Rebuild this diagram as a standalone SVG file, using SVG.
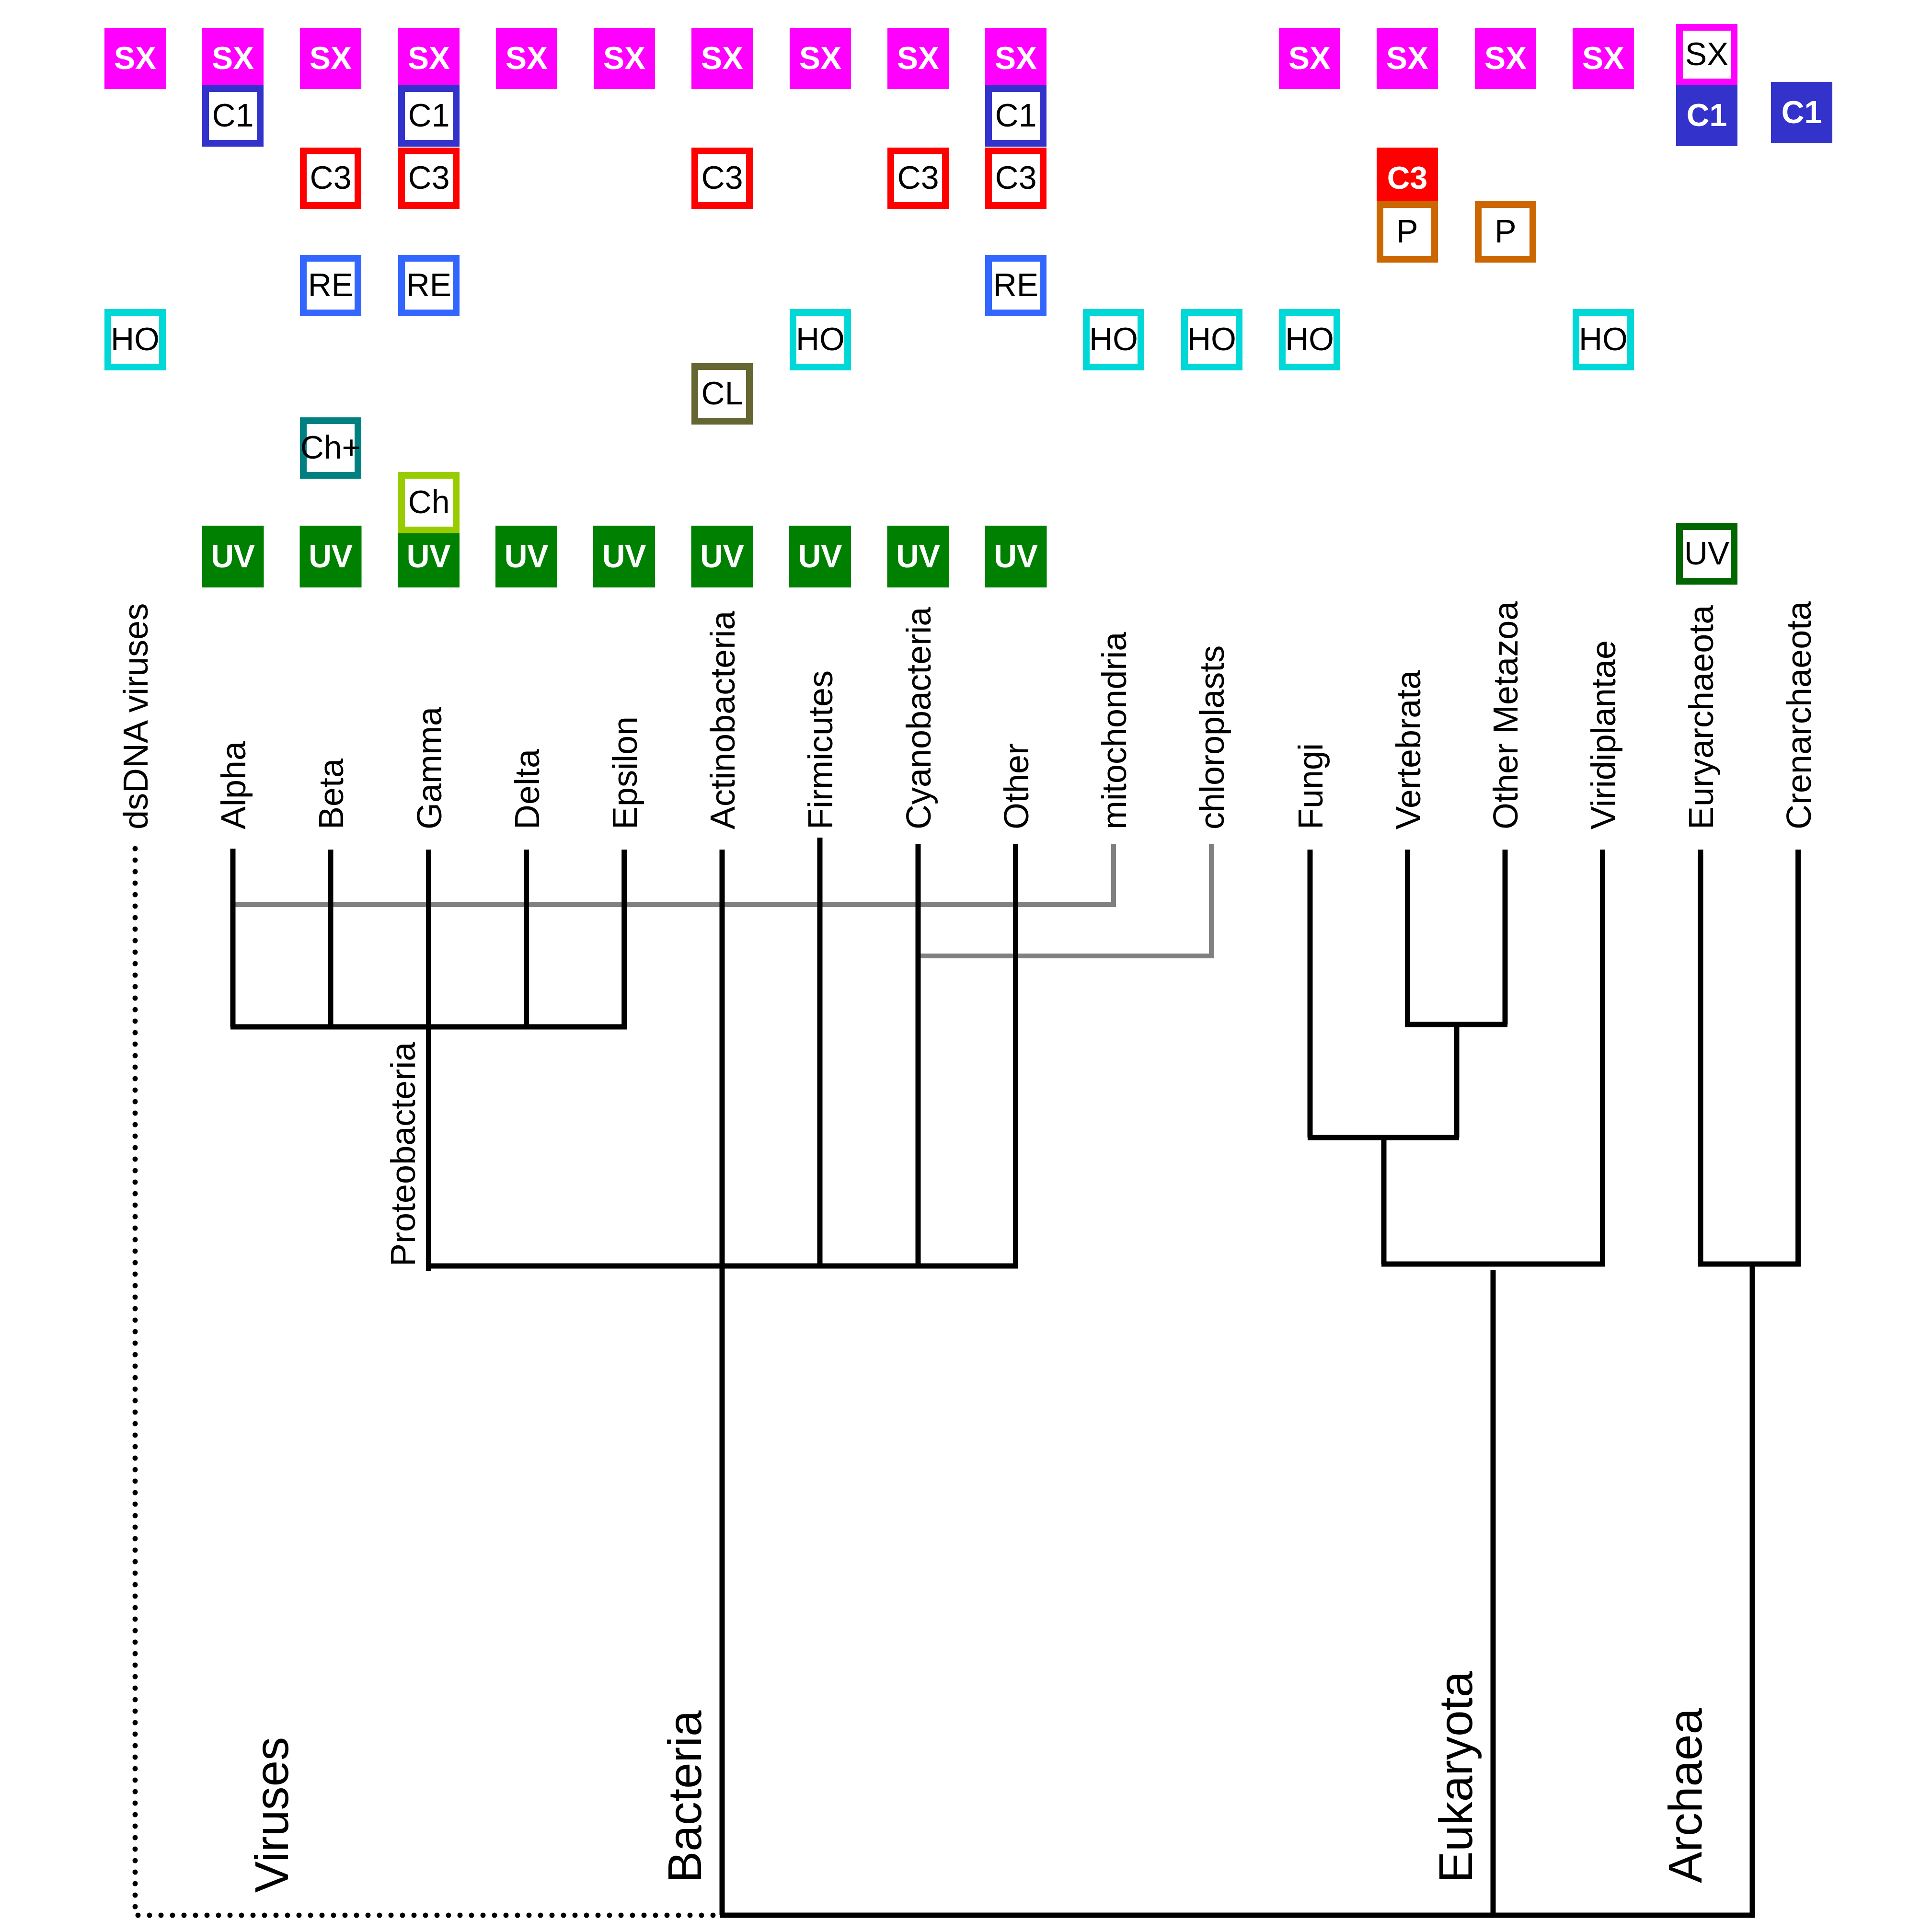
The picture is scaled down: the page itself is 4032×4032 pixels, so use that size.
<svg xmlns="http://www.w3.org/2000/svg" width="4032" height="4032" viewBox="0 0 4032 4032">
<style>
text{font-family:"Liberation Sans",Arial,Helvetica,sans-serif}
.ob{fill:#fff;stroke-width:14}
.tb{font-size:68px;fill:#000;text-anchor:middle}
.tw{font-size:66px;fill:#fff;font-weight:bold;text-anchor:middle}
.lbl{font-size:72px;fill:#000}
.big{font-size:98px;fill:#000}
.tr{stroke:#000;stroke-width:11;fill:none}
.gr{stroke:#808080;stroke-width:10;fill:none}
.dot{stroke:#000;stroke-width:11;fill:none;stroke-linecap:round;stroke-dasharray:0 24}
.sx{fill:#FF00FF}.c1{fill:#3333CC}.c3{fill:#FF0000}.uv{fill:#008000}
</style>
<rect width="4032" height="4032" fill="#fff"/>
<g id="connectors">
<path class="dot" d="M282 1771 V3997 H1500"/>
<path class="gr" d="M486 1888 H2324 V1761 M1916 1995 H2528 V1761"/>
<path class="tr" d="M486 1771 V2143 M690 1773 V2143 M894.5 1773 V2652 M1098.5 1773 V2143 M1302.7 1773 V2143 M481 2143 H1308"/>
<path class="tr" d="M1711 1748 V2642 M1916 1761 V2642 M2119.5 1761 V2642 M889 2642 H2125 M1507 1773 V3997 M1502 3997 H3662"/>
<path class="tr" d="M2734 1773 V2374 M2937.5 1773 V2138 M3141 1773 V2138 M2932 2138 H3146 M3040 2138 V2374 M2729 2374 H3045 M2888 2374 V2638 M2883 2638 H3349 M3344.5 1773 V2638 M3116 2651 V3997"/>
<path class="tr" d="M3549 1773 V2638 M3752.6 1773 V2638 M3544 2638 H3758 M3657 2638 V3997"/>
</g>
<g id="labels">
<text class="lbl" transform="translate(308,1731) rotate(-90)">dsDNA viruses</text>
<text class="lbl" transform="translate(512,1731) rotate(-90)">Alpha</text>
<text class="lbl" transform="translate(716,1731) rotate(-90)">Beta</text>
<text class="lbl" transform="translate(920.5,1731) rotate(-90)">Gamma</text>
<text class="lbl" transform="translate(1124.5,1731) rotate(-90)">Delta</text>
<text class="lbl" transform="translate(1328.7,1731) rotate(-90)">Epsilon</text>
<text class="lbl" transform="translate(1533,1731) rotate(-90)">Actinobacteria</text>
<text class="lbl" transform="translate(1737,1731) rotate(-90)">Firmicutes</text>
<text class="lbl" transform="translate(1942,1731) rotate(-90)">Cyanobacteria</text>
<text class="lbl" transform="translate(2145.5,1731) rotate(-90)">Other</text>
<text class="lbl" transform="translate(2350,1731) rotate(-90)">mitochondria</text>
<text class="lbl" transform="translate(2554,1731) rotate(-90)">chloroplasts</text>
<text class="lbl" transform="translate(2760,1731) rotate(-90)">Fungi</text>
<text class="lbl" transform="translate(2963.5,1731) rotate(-90)">Vertebrata</text>
<text class="lbl" transform="translate(3167,1731) rotate(-90)">Other Metazoa</text>
<text class="lbl" transform="translate(3370.5,1731) rotate(-90)">Viridiplantae</text>
<text class="lbl" transform="translate(3575,1731) rotate(-90)">Euryarchaeota</text>
<text class="lbl" transform="translate(3778.6,1731) rotate(-90)">Crenarchaeota</text>
<text class="lbl" transform="translate(866,2643) rotate(-90)">Proteobacteria</text>
<text class="big" transform="translate(601,3950) rotate(-90)">Viruses</text>
<text class="big" transform="translate(1463,3929) rotate(-90)">Bacteria</text>
<text class="big" transform="translate(3072,3929) rotate(-90)">Eukaryota</text>
<text class="big" transform="translate(3551,3930) rotate(-90)">Archaea</text>
</g>
<g id="sx-nodes">
<g id="sx-dsDNA"><rect class="sx" x="218" y="58" width="128" height="128"/><text class="tw" x="282" y="144">SX</text></g>
<g id="sx-alpha"><rect class="sx" x="422" y="58" width="128" height="128"/><text class="tw" x="486" y="144">SX</text></g>
<g id="sx-beta"><rect class="sx" x="626" y="58" width="128" height="128"/><text class="tw" x="690" y="144">SX</text></g>
<g id="sx-gamma"><rect class="sx" x="831" y="58" width="128" height="128"/><text class="tw" x="895" y="144">SX</text></g>
<g id="sx-delta"><rect class="sx" x="1035" y="58" width="128" height="128"/><text class="tw" x="1099" y="144">SX</text></g>
<g id="sx-epsilon"><rect class="sx" x="1239" y="58" width="128" height="128"/><text class="tw" x="1303" y="144">SX</text></g>
<g id="sx-actino"><rect class="sx" x="1443" y="58" width="128" height="128"/><text class="tw" x="1507" y="144">SX</text></g>
<g id="sx-firmi"><rect class="sx" x="1648" y="58" width="128" height="128"/><text class="tw" x="1712" y="144">SX</text></g>
<g id="sx-cyano"><rect class="sx" x="1852" y="58" width="128" height="128"/><text class="tw" x="1916" y="144">SX</text></g>
<g id="sx-other"><rect class="sx" x="2056" y="58" width="128" height="128"/><text class="tw" x="2120" y="144">SX</text></g>
<g id="sx-fungi"><rect class="sx" x="2669" y="58" width="128" height="128"/><text class="tw" x="2733" y="144">SX</text></g>
<g id="sx-verte"><rect class="sx" x="2873" y="58" width="128" height="128"/><text class="tw" x="2937" y="144">SX</text></g>
<g id="sx-metazoa"><rect class="sx" x="3078" y="58" width="128" height="128"/><text class="tw" x="3142" y="144">SX</text></g>
<g id="sx-viridi"><rect class="sx" x="3282" y="58" width="128" height="128"/><text class="tw" x="3346" y="144">SX</text></g>
<g id="sx-eury"><rect class="ob" x="3505" y="57" width="114" height="114" stroke="#FF00FF"/><text class="tb" x="3562" y="136">SX</text></g>
</g>
<g id="c1-nodes">
<g id="c1-alpha"><rect class="ob" x="429" y="185" width="114" height="114" stroke="#3333CC"/><text class="tb" x="486" y="264">C1</text></g>
<g id="c1-gamma"><rect class="ob" x="838" y="185" width="114" height="114" stroke="#3333CC"/><text class="tb" x="895" y="264">C1</text></g>
<g id="c1-other"><rect class="ob" x="2063" y="185" width="114" height="114" stroke="#3333CC"/><text class="tb" x="2120" y="264">C1</text></g>
<g id="c1-eury"><rect class="c1" x="3498" y="177" width="128" height="128"/><text class="tw" x="3562" y="263">C1</text></g>
<g id="c1-cren"><rect class="c1" x="3696" y="171" width="128" height="128"/><text class="tw" x="3760" y="257">C1</text></g>
</g>
<g id="c3-nodes">
<g id="c3-beta"><rect class="ob" x="633" y="315" width="114" height="114" stroke="#FF0000"/><text class="tb" x="690" y="394">C3</text></g>
<g id="c3-gamma"><rect class="ob" x="838" y="315" width="114" height="114" stroke="#FF0000"/><text class="tb" x="895" y="394">C3</text></g>
<g id="c3-actino"><rect class="ob" x="1450" y="315" width="114" height="114" stroke="#FF0000"/><text class="tb" x="1507" y="394">C3</text></g>
<g id="c3-cyano"><rect class="ob" x="1859" y="315" width="114" height="114" stroke="#FF0000"/><text class="tb" x="1916" y="394">C3</text></g>
<g id="c3-other"><rect class="ob" x="2063" y="315" width="114" height="114" stroke="#FF0000"/><text class="tb" x="2120" y="394">C3</text></g>
<g id="c3-verte"><rect class="c3" x="2873" y="308" width="128" height="128"/><text class="tw" x="2937" y="394">C3</text></g>
</g>
<g id="p-nodes">
<g id="p-verte"><rect class="ob" x="2880" y="427" width="114" height="114" stroke="#CC6600"/><text class="tb" x="2937" y="506">P</text></g>
<g id="p-metazoa"><rect class="ob" x="3085" y="427" width="114" height="114" stroke="#CC6600"/><text class="tb" x="3142" y="506">P</text></g>
</g>
<g id="re-nodes">
<g id="re-beta"><rect class="ob" x="633" y="539" width="114" height="114" stroke="#3366FF"/><text class="tb" x="690" y="618">RE</text></g>
<g id="re-gamma"><rect class="ob" x="838" y="539" width="114" height="114" stroke="#3366FF"/><text class="tb" x="895" y="618">RE</text></g>
<g id="re-other"><rect class="ob" x="2063" y="539" width="114" height="114" stroke="#3366FF"/><text class="tb" x="2120" y="618">RE</text></g>
</g>
<g id="ho-nodes">
<g id="ho-dsDNA"><rect class="ob" x="225" y="652" width="114" height="114" stroke="#00D8D8"/><text class="tb" x="282" y="731">HO</text></g>
<g id="ho-firmi"><rect class="ob" x="1655" y="652" width="114" height="114" stroke="#00D8D8"/><text class="tb" x="1712" y="731">HO</text></g>
<g id="ho-mito"><rect class="ob" x="2267" y="652" width="114" height="114" stroke="#00D8D8"/><text class="tb" x="2324" y="731">HO</text></g>
<g id="ho-chloro"><rect class="ob" x="2472" y="652" width="114" height="114" stroke="#00D8D8"/><text class="tb" x="2529" y="731">HO</text></g>
<g id="ho-fungi"><rect class="ob" x="2676" y="652" width="114" height="114" stroke="#00D8D8"/><text class="tb" x="2733" y="731">HO</text></g>
<g id="ho-viridi"><rect class="ob" x="3289" y="652" width="114" height="114" stroke="#00D8D8"/><text class="tb" x="3346" y="731">HO</text></g>
</g>
<g id="cl-actino"><rect class="ob" x="1450" y="765" width="114" height="114" stroke="#666633"/><text class="tb" x="1507" y="844">CL</text></g>
<g id="chplus-beta"><rect class="ob" x="633" y="878" width="114" height="114" stroke="#008080"/><text class="tb" x="690" y="957">Ch+</text></g>
<g id="uv-nodes">
<g id="uv-alpha"><rect class="uv" x="421.5" y="1097" width="129" height="129"/><text class="tw" x="486" y="1184">UV</text></g>
<g id="uv-beta"><rect class="uv" x="625.5" y="1097" width="129" height="129"/><text class="tw" x="690" y="1184">UV</text></g>
<g id="uv-gamma"><rect class="uv" x="830" y="1097" width="129" height="129"/><text class="tw" x="894.5" y="1184">UV</text></g>
<g id="uv-delta"><rect class="uv" x="1034" y="1097" width="129" height="129"/><text class="tw" x="1098.5" y="1184">UV</text></g>
<g id="uv-epsilon"><rect class="uv" x="1238" y="1097" width="129" height="129"/><text class="tw" x="1302.5" y="1184">UV</text></g>
<g id="uv-actino"><rect class="uv" x="1442.5" y="1097" width="129" height="129"/><text class="tw" x="1507" y="1184">UV</text></g>
<g id="uv-firmi"><rect class="uv" x="1647" y="1097" width="129" height="129"/><text class="tw" x="1711.5" y="1184">UV</text></g>
<g id="uv-cyano"><rect class="uv" x="1851.5" y="1097" width="129" height="129"/><text class="tw" x="1916" y="1184">UV</text></g>
<g id="uv-other"><rect class="uv" x="2055.5" y="1097" width="129" height="129"/><text class="tw" x="2120" y="1184">UV</text></g>
<g id="uv-eury"><rect class="ob" x="3505" y="1099" width="114" height="114" stroke="#006600"/><text class="tb" x="3562" y="1178">UV</text></g>
</g>
<g id="ch-gamma"><rect class="ob" x="838" y="992" width="114" height="114" stroke="#99CC00"/><text class="tb" x="895" y="1071">Ch</text></g>
</svg>
